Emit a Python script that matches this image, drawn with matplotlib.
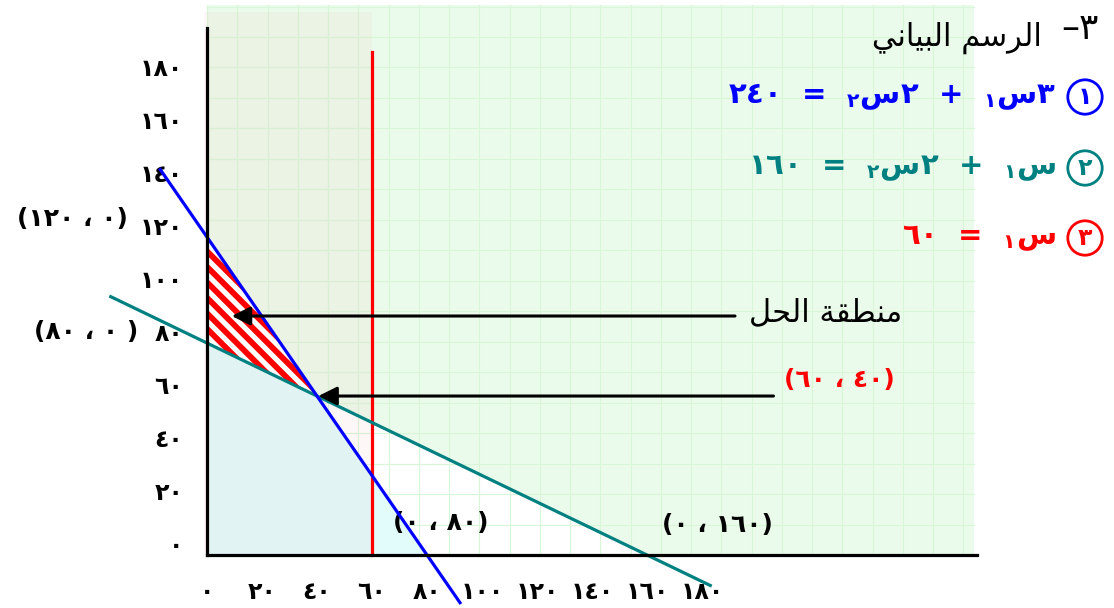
import numpy as np
import matplotlib
matplotlib.use("Agg")
import matplotlib.pyplot as plt
from matplotlib.patches import Polygon
from matplotlib.transforms import ScaledTranslation

plt.rcParams["font.family"] = ["DejaVu Sans"]
plt.rcParams["mathtext.fontset"] = "custom"
plt.rcParams["mathtext.rm"] = "DejaVu Sans:bold"
plt.rcParams["mathtext.it"] = "DejaVu Sans:bold"
plt.rcParams["mathtext.bf"] = "DejaVu Sans:bold"

# --- data -------------------------------------------------------------
x_ticks = [0, 20, 40, 60, 80, 100, 120, 140, 160, 180]
x_tick_labels = ["٠", "٢٠", "٤٠", "٦٠", "٨٠", "١٠٠", "١٢٠", "١٤٠", "١٦٠", "١٨٠"]
y_ticks = [0, 20, 40, 60, 80, 100, 120, 140, 160, 180]
y_tick_labels = ["٠", "٢٠", "٤٠", "٦٠", "٨٠", "١٠٠", "١٢٠", "١٤٠", "١٦٠", "١٨٠"]

# constraint lines (end points as drawn)
blue_x = [-17, 92]          # 3x1 + 2x2 = 240
blue_y = [145.5, -18]
green_x = [-35, 183]        # x1 + 2x2 = 160
green_y = [97.5, -11.5]
red_x = [60, 60]            # x1 = 60
red_y = [0, 190]

# shaded areas
green_area_x = [0, 0, 279, 279, 160]
green_area_y = [80, 207.5, 207.5, 0, 0]
cyan_area_x = [0, 0, 40, 80]
cyan_area_y = [0, 80, 60, 0]
pink_area_x = [-1, -1, 60, 60]
pink_area_y = [0, 205, 205, 0]
feas_x = [0, 0, 40]
feas_y = [120, 80, 60]

corner_x = 40
corner_y = 60

# Arabic text already shaped (presentation forms) in visual left-to-right order
title_words = "\ufef2\ufee7\ufe8e\ufef4\ufe92\ufedf\ufe8d \ufee2\ufeb3\ufeae\ufedf\ufe8d"
title_num = "–٣"
region_text = "\ufede\ufea4\ufedf\ufe8d \ufe94\ufed8\ufec4\ufee8\ufee3"
sin = "\ufeb1"

BLUE = "#0000ff"
TEAL = "#008080"
RED = "#ff0000"

W, H = 1114, 608
SX, SY = 2.75, 2.65   # pixels per data unit
fig = plt.figure(figsize=(W / 100, H / 100), dpi=100)
ax = fig.add_axes([207 / W, (H - 555) / H, (977 - 207) / W, (555 - 28) / H])
ax.set_xlim(0, 280)
ax.set_ylim(0, 198.9)

# background regions
green_poly = Polygon(list(zip(green_area_x, green_area_y)), closed=True,
                     facecolor="#ebfbeb", edgecolor="none", clip_on=False, zorder=0)
ax.add_patch(green_poly)
for gx in np.arange(0, 280, 11):
    ln, = ax.plot([gx, gx], [0, 207.5], color="#d8f6d8", lw=0.8, zorder=0.5, clip_on=False)
    ln.set_clip_path(green_poly)
for gy in np.arange(0, 208, 11.5):
    ln, = ax.plot([0, 279], [gy, gy], color="#d8f6d8", lw=0.8, zorder=0.5, clip_on=False)
    ln.set_clip_path(green_poly)

ax.fill(cyan_area_x, cyan_area_y, color="#e2fbfb", lw=0, zorder=1, clip_on=False)
ax.fill(pink_area_x, pink_area_y, color="#f07070", alpha=0.05, lw=0, zorder=2, clip_on=False)

# feasible region: white with red diagonal stripes
feas_poly = Polygon(list(zip(feas_x, feas_y)), closed=True, facecolor="white",
                    edgecolor="none", zorder=3)
ax.add_patch(feas_poly)
slope = SX / SY
for c in np.arange(62, 180, 15.5 / SY):
    ln, = ax.plot([-5, 50], [c + 5 * slope, c - 50 * slope], color=RED, lw=4.2,
                  zorder=3.5, solid_capstyle="butt")
    ln.set_clip_path(feas_poly)

# constraint lines
ax.plot(red_x, red_y, color=RED, lw=2.3, zorder=4, clip_on=False)
ax.plot(green_x, green_y, color=TEAL, lw=2.3, zorder=5, clip_on=False)
ax.plot(blue_x, blue_y, color=BLUE, lw=2.3, zorder=6, clip_on=False)

# axes styling
for side in ["top", "right"]:
    ax.spines[side].set_visible(False)
for side in ["left", "bottom"]:
    ax.spines[side].set_linewidth(2.3)
    ax.spines[side].set_zorder(7)
ax.set_facecolor("none")
ax.set_xticks(x_ticks)
ax.set_xticklabels(x_tick_labels, fontsize=17, fontweight="bold")
ax.set_yticks(y_ticks)
ax.set_yticklabels(y_tick_labels, fontsize=17, fontweight="bold")
ax.tick_params(axis="x", length=0, pad=18)
ax.tick_params(axis="y", length=0, pad=17)
for lbl in ax.get_yticklabels():
    lbl.set_transform(lbl.get_transform() + ScaledTranslation(0, 0.12, fig.dpi_scale_trans))

# point labels
lab = dict(fontsize=18, fontweight="bold", ha="center", va="center", clip_on=False)
ax.text(-49, 127, "(١٢٠ ، ٠)", **lab)
ax.text(-44, 84, "(٨٠ ، ٠ )", **lab)
ax.text(85, 12, "(٠ ، ٨٠)", **lab)
ax.text(185.5, 11.3, "(٠ ، ١٦٠)", **lab)
ax.text(230, 66, "(٦٠ ، ٤٠)", color=RED, **lab)

# arrows
arrow = dict(arrowstyle="-|>", color="black", lw=2.2, mutation_scale=28,
             shrinkA=0, shrinkB=0)
ax.annotate("", xy=(9, 90.2), xytext=(192, 90.2), arrowprops=arrow, zorder=8)
ax.annotate("", xy=(corner_x + 0.5, corner_y), xytext=(206, corner_y),
            arrowprops=arrow, zorder=8)
ax.text(197, 91.5, region_text, fontsize=22, ha="left", va="center")


# title and equations (figure coordinates)
def fx(px):
    return px / W


def fy(py):
    return 1 - py / H


fig.text(fx(1099), fy(29), title_num, fontsize=26, ha="right", va="center")
fig.text(fx(1042), fy(38), title_words, fontsize=22, ha="right", va="center")

equations = [
    ("٢٤٠  =  $_{٢}$" + sin + "٢  +  $_{١}$" + sin + "٣", BLUE, "١", 97),
    ("١٦٠  =  $_{٢}$" + sin + "٢  +  $_{١}$" + sin, TEAL, "٢", 168),
    ("٦٠  =  $_{١}$" + sin, RED, "٣", 238),
]
for text, color, num, py in equations:
    fig.text(fx(1056), fy(py), text, fontsize=21, fontweight="bold", color=color,
             ha="right", va="center")
    fig.text(fx(1085), fy(py), num, fontsize=17, fontweight="bold", color=color,
             ha="center", va="center",
             bbox=dict(boxstyle="circle,pad=0.22", fc="none", ec=color, lw=2))

fig.savefig("out.png", dpi=100)
